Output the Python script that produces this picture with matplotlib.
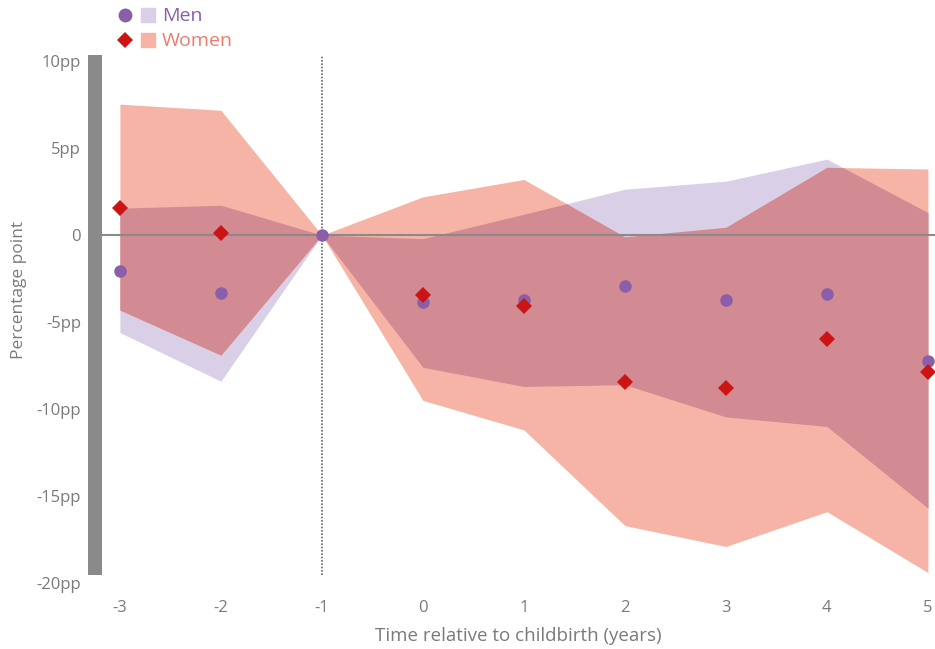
import numpy as np
import matplotlib.pyplot as plt
from matplotlib.patches import Rectangle

plt.rcParams['font.family'] = ['Open Sans', 'DejaVu Sans']

years = [-3, -2, -1, 0, 1, 2, 3, 4, 5]

men_est = [-2.07, -3.35, 0, -3.85, -3.74, -2.93, -3.74, -3.39, -7.24]
men_hi = [1.55, 1.72, 0, -0.2, 1.2, 2.64, 3.1, 4.37, 1.3]
men_lo = [-5.6, -8.4, 0, -7.6, -8.7, -8.6, -10.45, -11.0, -15.7]

# reference year (-1) is shown only by the men's marker
women_est = [1.57, 0.1, np.nan, -3.45, -4.08, -8.45, -8.79, -5.98, -7.87]
women_hi = [7.53, 7.18, 0, 2.2, 3.2, -0.1, 0.45, 3.9, 3.8]
women_lo = [-4.31, -6.9, 0, -9.5, -11.2, -16.7, -17.9, -15.9, -19.4]

y_ticks = [10, 5, 0, -5, -10, -15, -20]
y_labels = ['10pp', '5pp', '0', '-5pp', '-10pp', '-15pp', '-20pp']

c_men_band = '#d9d0e8'
c_women_band = '#f6b4a6'
c_overlap = '#d28a93'
c_men = '#8a5ea8'
c_women = '#cc1414'
c_grey = '#8a8a8a'
c_text = '#7a7a7a'

fig = plt.figure(figsize=(9.35, 6.49), dpi=100)
ax = fig.add_axes([0.109, 0.1017, 0.891, 0.804])

ax.fill_between(years, men_lo, men_hi, color=c_men_band, lw=0)
ax.fill_between(years, women_lo, women_hi, color=c_women_band, lw=0)

# overlap of the two bands, evaluated on a fine grid
xf = np.linspace(years[0], years[-1], 2001)
top = np.minimum(np.interp(xf, years, men_hi), np.interp(xf, years, women_hi))
bot = np.maximum(np.interp(xf, years, men_lo), np.interp(xf, years, women_lo))
ax.fill_between(xf, bot, top, where=top >= bot, color=c_overlap, lw=0, interpolate=True)

ax.axhline(0, color=c_grey, lw=1.5, zorder=3)
ax.plot([-1, -1], [-19.55, 10.35], color='#666666', lw=1.2, ls=(0, (1, 1)),
        clip_on=False, zorder=3)

ax.plot(years, men_est, 'o', color=c_men, ms=9, mew=0, zorder=5)
ax.plot(years, women_est, 'D', color=c_women, ms=8, mew=0, zorder=6)

ax.set_xlim(-3.178, 5.07)
ax.set_ylim(-20, 10)

for s in ax.spines.values():
    s.set_visible(False)

# thick grey bar on the left
ax.add_patch(Rectangle((-3.178 - 0.14, -19.55), 0.14, 29.9, transform=ax.transData,
                       color=c_grey, lw=0, clip_on=False))

ax.set_xticks(years)
ax.set_xticklabels([str(y) for y in years])
ax.set_yticks(y_ticks)
ax.set_yticklabels(y_labels)
ax.tick_params(axis='both', length=0, colors=c_text, labelsize=12)
ax.tick_params(axis='y', pad=15)
ax.tick_params(axis='x', pad=12)
ax.set_xlabel('Time relative to childbirth (years)', color=c_text, fontsize=13.5, labelpad=8)
ax.set_ylabel('Percentage point', color=c_text, fontsize=12.5)
ax.yaxis.set_label_coords(-0.09, 0.561)

# legend drawn by hand
def fx(px):
    return px / 935

def fy(py):
    return 1 - py / 649

fig.lines.append(plt.Line2D([fx(125)], [fy(15)], marker='o', color=c_men, ms=10, mew=0,
                            transform=fig.transFigure))
fig.patches.append(Rectangle((fx(141), fy(22)), 14 / 935, 14 / 649, color=c_men_band,
                             transform=fig.transFigure))
fig.text(fx(162), fy(16), 'Men', color=c_men, fontsize=14, va='center')

fig.lines.append(plt.Line2D([fx(125)], [fy(40)], marker='D', color=c_women, ms=8, mew=0,
                            transform=fig.transFigure))
fig.patches.append(Rectangle((fx(141), fy(47)), 14 / 935, 14 / 649, color=c_women_band,
                             transform=fig.transFigure))
fig.text(fx(162), fy(41), 'Women', color='#f07a6a', fontsize=14, va='center')

fig.savefig('out.png', dpi=100)
